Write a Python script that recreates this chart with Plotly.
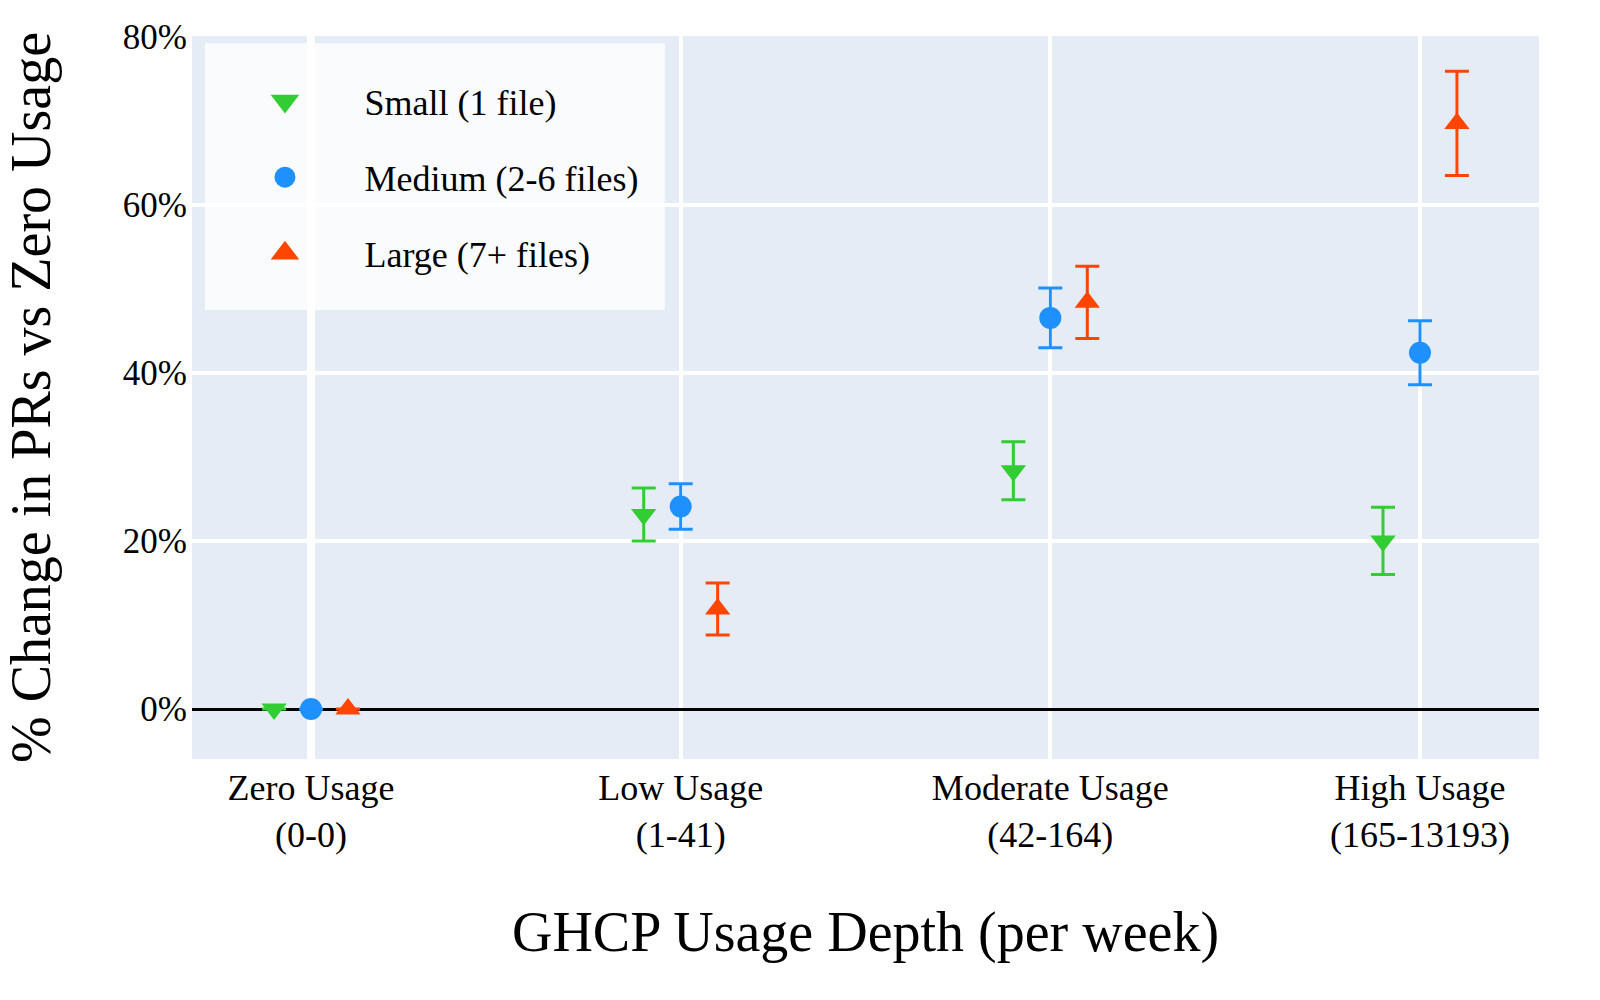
import plotly.graph_objects as go

categories = ["Zero Usage<br>(0-0)", "Low Usage<br>(1-41)", "Moderate Usage<br>(42-164)", "High Usage<br>(165-13193)"]
cat_pos = [0, 1, 2, 3]

y_ticks = [0, 20, 40, 60, 80]
y_ticktext = [f"{v}%" for v in y_ticks]

series_names = ["Small (1 file)", "Medium (2-6 files)", "Large (7+ files)"]
small_vals = [0, 23.15, 28.35, 20.0]
small_err = [None, 3.15, 3.45, 4.0]
medium_vals = [0, 24.1, 46.55, 42.4]
medium_err = [None, 2.7, 3.55, 3.8]
large_vals = [0, 11.9, 48.4, 69.7]
large_err = [None, 3.1, 4.3, 6.2]

offsets = [-0.1, 0.0, 0.1]
colors = ["#32CD32", "#1E90FF", "#FF4500"]
symbols = ["triangle-down", "circle", "triangle-up"]

FONT = "Liberation Serif, Times New Roman, serif"
LEG_BG = "rgba(255,255,255,0.78)"

fig = go.Figure()
for name, vals, errs, off, col, sym in zip(
    series_names,
    [small_vals, medium_vals, large_vals],
    [small_err, medium_err, large_err],
    offsets, colors, symbols,
):
    fig.add_trace(go.Scatter(
        x=[p + off for p in cat_pos],
        y=vals,
        mode="markers",
        name=name,
        legendgroup=name,
        showlegend=False,
        marker=dict(symbol=sym, size=22, color=col),
        error_y=dict(type="data", array=errs, visible=True, color=col, thickness=3, width=12),
    ))
    # legend entry (plotly clamps legend marker size, so enlarge with an outline)
    fig.add_trace(go.Scatter(
        x=[None], y=[None],
        mode="markers",
        name=name,
        legendgroup=name,
        showlegend=True,
        marker=dict(symbol=sym, size=16, color=col, line=dict(color=col, width=5)),
    ))

# translucent legend panel
fig.add_shape(
    type="rect", xref="paper", yref="paper",
    x0=0.00965, x1=0.351, y0=0.621, y1=0.990,
    fillcolor=LEG_BG, line=dict(width=0), layer="between",
)

fig.update_layout(
    width=1600, height=1000,
    template="plotly",
    font=dict(family=FONT, size=36, color="black"),
    margin=dict(l=192, r=61, t=36, b=241, autoexpand=False),
    plot_bgcolor="#E5ECF6",
    paper_bgcolor="white",
    legend=dict(
        x=0.01, y=0.951, xanchor="left", yanchor="top",
        bgcolor="rgba(0,0,0,0)",
        borderwidth=0,
        font=dict(family=FONT, size=36),
        itemwidth=149,
        tracegroupgap=26,
    ),
)
fig.update_xaxes(
    tickmode="array", tickvals=cat_pos, ticktext=categories,
    range=[-0.322, 3.322],
    showgrid=True, gridcolor="white", gridwidth=4,
    zeroline=True, zerolinecolor="white", zerolinewidth=8,
    title=dict(text="GHCP Usage Depth (per week)", font=dict(size=56), standoff=58),
    tickfont=dict(size=36),
    ticklabelstandoff=4,
    automargin=False,
)
fig.update_yaxes(
    range=[-5.95, 80.1],
    tickmode="array", tickvals=y_ticks, ticktext=y_ticktext,
    showgrid=True, gridcolor="white", gridwidth=4,
    zeroline=True, zerolinecolor="black", zerolinewidth=3,
    title=dict(text="% Change in PRs vs Zero Usage", font=dict(size=56), standoff=62),
    tickfont=dict(size=35),
    ticklabelstandoff=4,
    automargin=False,
)

fig.write_html("out.html")
